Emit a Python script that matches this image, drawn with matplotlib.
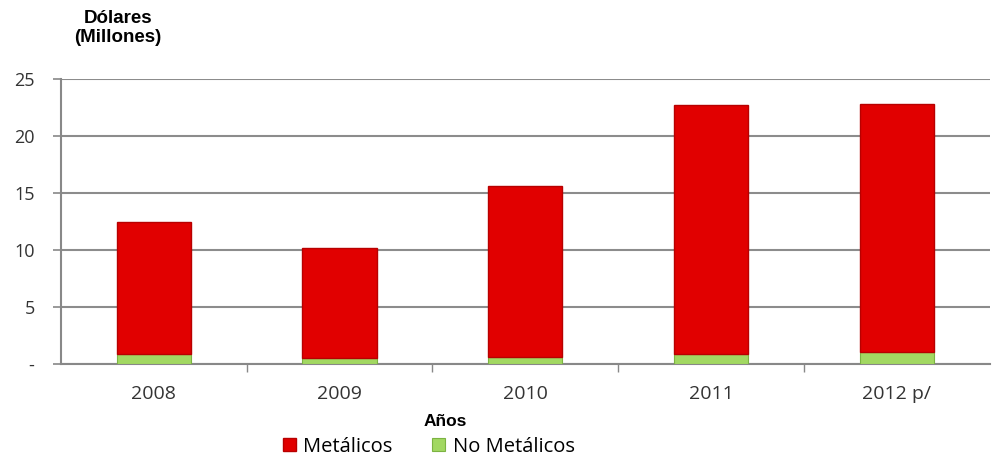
import numpy as np
import matplotlib.pyplot as plt

# Datos (millones de dólares)
anios = ['2008', '2009', '2010', '2011', '2012 p/']
no_metalicos = [0.9, 0.5, 0.6, 0.9, 1.1]
metalicos = [11.6, 9.7, 15.0, 21.8, 21.7]
yticks = [0, 5, 10, 15, 20, 25]
ytick_labels = ['-', '5', '10', '15', '20', '25']

plt.rcParams['font.family'] = ['Open Sans', 'DejaVu Sans']

fig = plt.figure(figsize=(9.92, 4.62), dpi=100)
ax = fig.add_axes([0.0615, 0.212, 0.936, 0.617])

x = np.arange(len(anios))
ancho = 0.40

ax.bar(x, no_metalicos, ancho, color='#a2d862', edgecolor='#7cb342', linewidth=0.8,
       label='No Metálicos', zorder=3)
ax.bar(x, metalicos, ancho, bottom=no_metalicos, color='#e10000', edgecolor='#b80000',
       linewidth=1.0, label='Metálicos', zorder=3)

ax.set_xlim(-0.5, len(anios) - 0.5)
ax.set_ylim(0, 25)
ax.set_yticks(yticks)
ax.set_yticklabels(ytick_labels, fontsize=13, color='#333333')
ax.set_xticks(x)
ax.set_xticklabels(anios, fontsize=14, color='#333333')
ax.tick_params(axis='x', length=0, pad=15)
ax.tick_params(axis='y', length=6, width=1.2, color='#888888', pad=13)

# marcas entre categorias
ax.set_xticks(np.arange(0.5, len(anios) - 0.5, 1), minor=True)
ax.tick_params(axis='x', which='minor', length=6, width=1, color='#888888')

ax.grid(axis='y', color='#8c8c8c', linewidth=1.5, zorder=0)
for s in ['top', 'right']:
    ax.spines[s].set_visible(False)
ax.spines['left'].set_color('#888888')
ax.spines['left'].set_linewidth(1.5)
ax.spines['bottom'].set_color('#888888')
ax.spines['bottom'].set_linewidth(1.5)

fig.text(0.119, 0.94, 'Dólares\n(Millones)', ha='center', va='center', fontsize=13.5,
         fontweight='bold', family=['Liberation Sans', 'DejaVu Sans'], linespacing=1.15)
fig.text(0.449, 0.088, 'Años', ha='center', va='center', fontsize=12.5,
         fontweight='bold', family=['Liberation Sans', 'DejaVu Sans'])

handles, labels = ax.get_legend_handles_labels()
fig.legend(handles[::-1], labels[::-1], loc='center', bbox_to_anchor=(0.432, 0.033),
           ncol=2, frameon=False, fontsize=14.5, handlelength=0.65, handleheight=0.65,
           handletextpad=0.35, columnspacing=2.0, borderpad=0)

fig.savefig('out.png', dpi=100)
